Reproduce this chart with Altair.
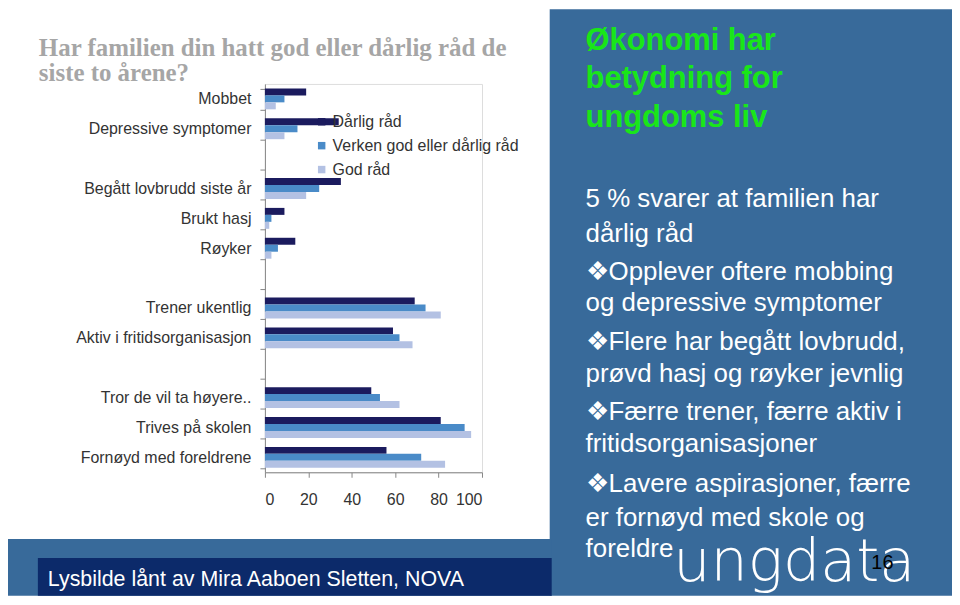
import altair as alt
import pandas as pd

# ---- data ----
categories = ["Mobbet", "Depressive symptomer", " ", "Begått lovbrudd siste år",
              "Brukt hasj", "Røyker", "  ", "Trener ukentlig",
              "Aktiv i fritidsorganisasjon", "   ", "Tror de vil ta høyere..",
              "Trives på skolen", "Fornøyd med foreldrene"]
series = ["Dårlig råd", "Verken god eller dårlig råd", "God råd"]
bad = [19, 34, 35, 9, 14, 69, 59, 49, 81, 56]
neither = [9, 15, 25, 3, 6, 74, 62, 53, 92, 72]
good = [5, 9, 19, 2, 3, 81, 68, 62, 95, 83]
x_ticks = [0, 20, 40, 60, 80, 100]
colors = ["#1B1B5E", "#4A8BC8", "#B3C1E3"]

title_lines = ["Har familien din hatt god eller dårlig råd de", "siste to årene?"]
panel_title = ["Økonomi har", "betydning for", "ungdoms liv"]
panel_lines = ["5 % svarer at familien har", "dårlig råd",
               "❖Opplever oftere mobbing", "og depressive symptomer",
               "❖Flere har begått lovbrudd,", "prøvd hasj og røyker jevnlig",
               "❖Færre trener, færre aktiv i", "fritidsorganisasjoner",
               "❖Lavere aspirasjoner, færre", "er fornøyd med skole og",
               "foreldre"]
footer = "Lysbilde lånt av Mira Aaboen Sletten, NOVA"
logo = "ungdata"
page_no = "16"

data_cats = [c for c in categories if c.strip()]
rows = []
for s, vals in zip(series, [bad, neither, good]):
    for c, v in zip(data_cats, vals):
        rows.append({"kategori": c, "svar": s, "prosent": v})
df = pd.DataFrame(rows)

FONT = "Liberation Sans"
blank = alt.Data(values=[{}])


def rect(x, x2, y, y2, color):
    return alt.Chart(blank).mark_rect(color=color).encode(
        x=alt.value(x), x2=alt.value(x2), y=alt.value(y), y2=alt.value(y2))


def text(s, x, y, size, color, font=FONT, weight="normal"):
    return alt.Chart(blank).mark_text(
        text=s, align="left", baseline="alphabetic", fontSize=size,
        font=font, fontWeight=weight, color=color).encode(
        x=alt.value(x), y=alt.value(y))


bars = alt.Chart(df).mark_bar().encode(
    x=alt.X("prosent:Q", scale=alt.Scale(domain=[0, 100]),
            axis=alt.Axis(values=x_ticks, title=None, grid=False, tickSize=5,
                          labelPadding=14, labelFontSize=16, labelFont=FONT,
                          labelColor="#333333", domainColor="#868686",
                          tickColor="#868686")),
    y=alt.Y("kategori:N", sort=categories,
            scale=alt.Scale(domain=categories, paddingInner=0.3, paddingOuter=0.15),
            axis=alt.Axis(title=None, tickBand="extent", tickSize=5, labelPadding=9,
                          labelFontSize=16, labelFont=FONT, labelColor="#333333",
                          domainColor="#868686", tickColor="#868686", labelLimit=300)),
    yOffset=alt.YOffset("svar:N", sort=series, scale=alt.Scale(domain=series)),
    color=alt.Color("svar:N", scale=alt.Scale(domain=series, range=colors),
                    legend=alt.Legend(title=None, orient="none", legendX=49, legendY=30,
                                      symbolType="square", symbolSize=56,
                                      symbolStrokeWidth=0, labelFontSize=16,
                                      labelFont=FONT, labelColor="#333333",
                                      labelLimit=400, rowPadding=8, labelOffset=3,
                                      padding=0)),
)

layers = [
    rect(286, 690, -75, 514, "#386A9A"),
    rect(-258, 288, 457, 514, "#386A9A"),
    rect(-228, 288, 476, 514, "#0C2A6A"),
    bars,
    text(title_lines[0], -227, -28, 25, "#A6A6A6", font="Liberation Serif", weight="bold"),
    text(title_lines[1], -227, -3, 25, "#A6A6A6", font="Liberation Serif", weight="bold"),
    text(footer, -218, 504, 21.5, "#FFFFFF"),
]
for s, yy in zip(panel_title, [-34, 4, 43]):
    layers.append(text(s, 322, yy, 31, "#19E619", weight="bold"))
for s, yy in zip(panel_lines, [124, 159, 197, 228, 267, 299, 337, 370, 410, 444, 475]):
    layers.append(text(s, 322, yy, 26, "#FFFFFF"))
layers.append(text(logo, 410, 499, 59, "#FFFFFF", font="DejaVu Sans", weight=200))
layers.append(text(page_no, 609, 487, 20, "#000000"))

chart = alt.layer(*layers).properties(
    width=218, height=390,
    padding={"left": 258, "top": 75, "right": 472, "bottom": 124},
    autosize="none",
).configure_view(strokeWidth=0).configure(background="white")

chart.save("out.html", embed_options={"renderer": "svg", "actions": False})
